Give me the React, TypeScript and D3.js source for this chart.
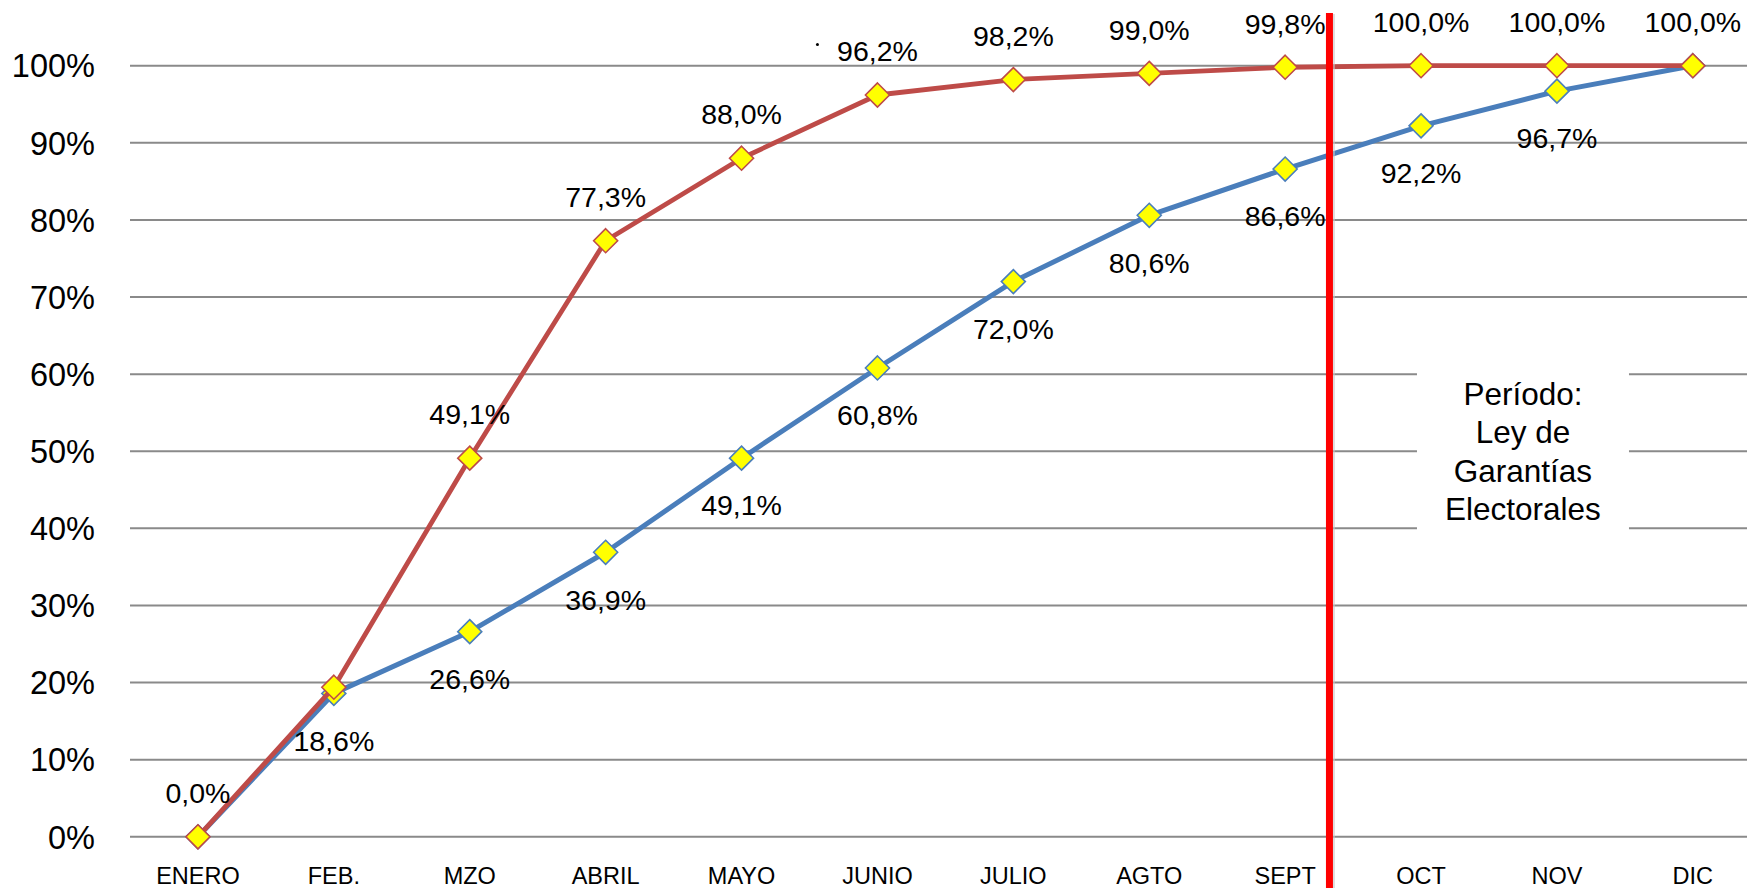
import React from "react";
import * as d3 from "d3";

const months = ["ENERO", "FEB.", "MZO", "ABRIL", "MAYO", "JUNIO", "JULIO", "AGTO", "SEPT", "OCT", "NOV", "DIC"];
const blueValues = [0.0, 18.6, 26.6, 36.9, 49.1, 60.8, 72.0, 80.6, 86.6, 92.2, 96.7, 100.0];
const blueLabels = ["", "18,6%", "26,6%", "36,9%", "49,1%", "60,8%", "72,0%", "80,6%", "86,6%", "92,2%", "96,7%", ""];
const redValues = [0.0, 19.4, 49.1, 77.3, 88.0, 96.2, 98.2, 99.0, 99.8, 100.0, 100.0, 100.0];
const redLabels = ["0,0%", "", "49,1%", "77,3%", "88,0%", "96,2%", "98,2%", "99,0%", "99,8%", "100,0%", "100,0%", "100,0%"];
const yTicks = [0, 10, 20, 30, 40, 50, 60, 70, 80, 90, 100];
const dividerAfter = "SEPT";
const dividerOffset = 0.326;
const noteMonth = "OCT";
const noteOffset = 0.75;
const noteLines = ["Período:", "Ley de", "Garantías", "Electorales"];

const W = 1747;
const H = 888;
const FONT = "'Liberation Sans', Arial, sans-serif";
const BLUE = "#4A7EBB";
const RED = "#BE4B48";

export default function App() {
  const x = d3.scaleBand<string>().domain(months).range([130, 1760.8]).padding(0);
  const bw = x.bandwidth();
  const cx = (m: string) => (x(m) as number) + bw / 2;
  const y = d3.scaleLinear().domain([0, 100]).range([836.8, 65.7]);

  const line = d3
    .line<number>()
    .x((_, i) => cx(months[i]))
    .y((v) => y(v));

  const diamond = (px: number, py: number, r = 12) =>
    `M${px},${py - r}L${px + r},${py}L${px},${py + r}L${px - r},${py}Z`;

  const divX = cx(dividerAfter) + dividerOffset * bw;
  const noteX = cx(noteMonth) + noteOffset * bw;

  return (
    <svg
      width={W}
      height={H}
      style={{ position: "absolute", left: 0, top: 0, display: "block", background: "#fff" }}
      fontFamily={FONT}
    >
      <rect x={0} y={0} width={W} height={H} fill="#fff" />
      {yTicks.map((t) => (
        <g key={t}>
          <line x1={130} x2={W} y1={y(t)} y2={y(t)} stroke="#8a8a8a" strokeWidth={2} />
          <text x={95} y={y(t)} dy="0.36em" textAnchor="end" fontSize={32.5} fill="#000">
            {t}%
          </text>
        </g>
      ))}
      {/* annotation box */}
      <rect x={noteX - 106} y={330} width={212} height={230} fill="#fff" />
      {noteLines.map((l, i) => (
        <text key={l} x={noteX} y={405 + i * 38.3} textAnchor="middle" fontSize={31.5} fill="#000">
          {l}
        </text>
      ))}
      {months.map((m) => (
        <text key={m} x={cx(m)} y={884} textAnchor="middle" fontSize={23.5} fill="#000">
          {m}
        </text>
      ))}
      {/* blue series */}
      <path d={line(blueValues) || ""} fill="none" stroke={BLUE} strokeWidth={5} strokeLinejoin="round" />
      {blueValues.map((v, i) => (
        <path key={"bm" + i} d={diamond(cx(months[i]), y(v))} fill="#FFFF00" stroke={BLUE} strokeWidth={1.6} />
      ))}
      {/* red series */}
      <path d={line(redValues) || ""} fill="none" stroke={RED} strokeWidth={4.8} strokeLinejoin="round" />
      {redValues.map((v, i) => (
        <path key={"rm" + i} d={diamond(cx(months[i]), y(v))} fill="#FFFF00" stroke={RED} strokeWidth={1.6} />
      ))}
      {blueValues.map((v, i) =>
        blueLabels[i] ? (
          <text key={"bl" + i} x={cx(months[i])} y={y(v) + 47} dy="0.36em" textAnchor="middle" fontSize={28.5} fill="#000">
            {blueLabels[i]}
          </text>
        ) : null
      )}
      {redValues.map((v, i) =>
        redLabels[i] ? (
          <text key={"rl" + i} x={cx(months[i])} y={y(v) - 44} dy="0.36em" textAnchor="middle" fontSize={28.5} fill="#000">
            {redLabels[i]}
          </text>
        ) : null
      )}
      {/* stray dot near the JUNIO label */}
      <circle cx={cx("JUNIO") - 60} cy={44.6} r={1.5} fill="#000" />
      {/* divider */}
      <line x1={divX + 2} x2={divX + 2} y1={14} y2={H} stroke="#c8c8c8" strokeWidth={7} opacity={0.6} />
      <line x1={divX} x2={divX} y1={13} y2={H} stroke="#FF0000" strokeWidth={7} />
    </svg>
  );
}
